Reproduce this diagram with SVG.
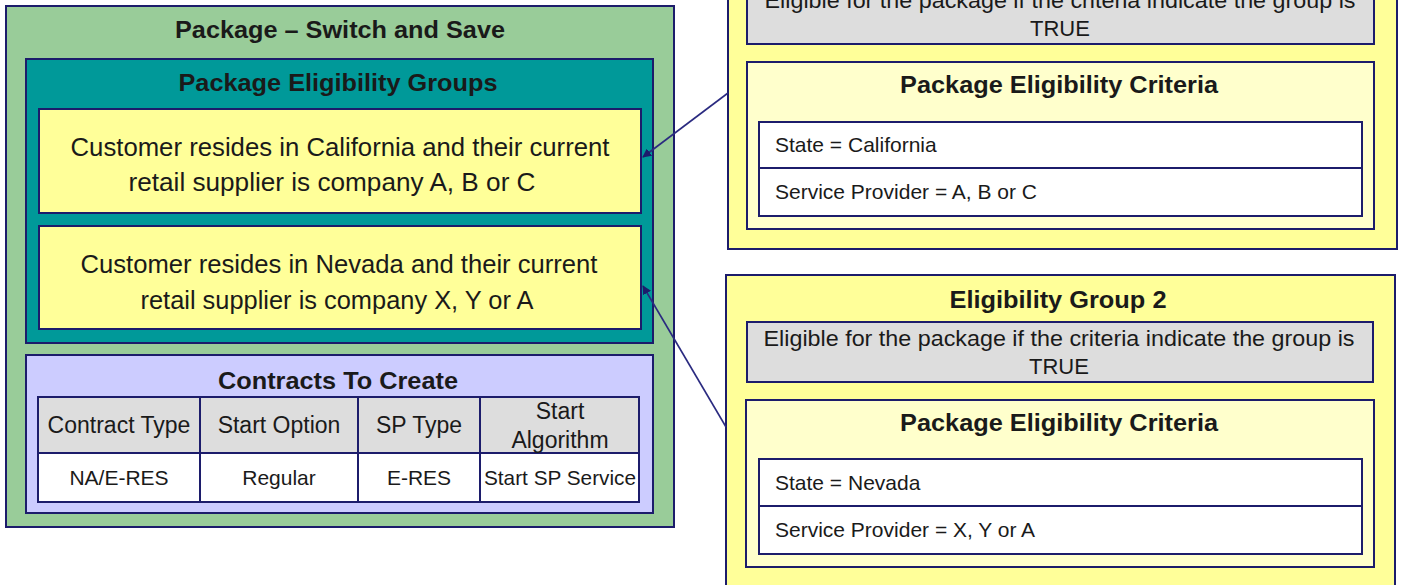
<svg xmlns="http://www.w3.org/2000/svg" width="1402" height="585" viewBox="0 0 1402 585">
<defs>
<style>
.bx{stroke:#1c1c6b;stroke-width:2}
.green{fill:#99cc99}
.teal{fill:#009999}
.yel{fill:#ffff99}
.crit{fill:#ffffcc}
.lav{fill:#ccccff}
.gray{fill:#dddddd}
.white{fill:#ffffff}
text{font-family:"Liberation Sans",Arial,sans-serif;fill:#1a1a1a}
.t{font-weight:bold;font-size:24px;text-anchor:middle}
.big{font-size:26px;text-anchor:middle}
.mid{font-size:22px;text-anchor:middle}
.head{font-size:23px;text-anchor:middle}
.cell{font-size:21px;text-anchor:middle}
.row{font-size:21px}
.conn{stroke:#2a2a80;stroke-width:1.6;fill:none}
</style>
<marker id="ah" viewBox="0 0 10 10" refX="9" refY="5" markerWidth="9" markerHeight="9" markerUnits="userSpaceOnUse" orient="auto">
<path d="M0,0 L10,5 L0,10 z" fill="#1c1c6b"/>
</marker>
</defs>

<g id="package">
<rect class="bx green" x="6" y="6" width="668" height="521"/>
<text class="t" x="340" y="38" textLength="330" lengthAdjust="spacingAndGlyphs">Package – Switch and Save</text>
</g>

<g id="eligibility-groups">
<rect class="bx teal" x="26" y="59" width="627" height="284"/>
<text class="t" x="338" y="91" textLength="319" lengthAdjust="spacingAndGlyphs">Package Eligibility Groups</text>
</g>

<g id="group-california">
<rect class="bx yel" x="39" y="109" width="602" height="104"/>
<text class="big" x="340" y="156" textLength="539" lengthAdjust="spacingAndGlyphs">Customer resides in California and their current</text>
<text class="big" x="332" y="191" textLength="407" lengthAdjust="spacingAndGlyphs">retail supplier is company A, B or C</text>
</g>

<g id="group-nevada">
<rect class="bx yel" x="39" y="226" width="602" height="103"/>
<text class="big" x="339" y="273" textLength="517" lengthAdjust="spacingAndGlyphs">Customer resides in Nevada and their current</text>
<text class="big" x="337" y="309" textLength="393" lengthAdjust="spacingAndGlyphs">retail supplier is company X, Y or A</text>
</g>

<g id="contracts">
<rect class="bx lav" x="26" y="355" width="627" height="158"/>
<text class="t" x="338" y="389" textLength="240" lengthAdjust="spacingAndGlyphs">Contracts To Create</text>
<rect class="bx gray" x="38" y="397" width="601" height="56"/>
<rect class="bx white" x="38" y="453" width="601" height="49"/>
<line class="bx" x1="200" y1="397" x2="200" y2="502"/>
<line class="bx" x1="358" y1="397" x2="358" y2="502"/>
<line class="bx" x1="480" y1="397" x2="480" y2="502"/>
<text class="head" x="119" y="433">Contract Type</text>
<text class="head" x="279" y="433">Start Option</text>
<text class="head" x="419" y="433">SP Type</text>
<text class="head" x="560" y="419">Start</text>
<text class="head" x="560" y="448">Algorithm</text>
<text class="cell" x="119" y="485">NA/E-RES</text>
<text class="cell" x="279" y="485">Regular</text>
<text class="cell" x="419" y="485">E-RES</text>
<text class="cell" x="560" y="485" textLength="152" lengthAdjust="spacingAndGlyphs">Start SP Service</text>
</g>

<g id="eligibility-group-1">
<rect class="bx yel" x="728" y="-63" width="669" height="312"/>
<rect class="bx gray" x="747" y="-16" width="627" height="60"/>
<text class="mid" x="1060" y="8" textLength="591" lengthAdjust="spacingAndGlyphs">Eligible for the package if the criteria indicate the group is</text>
<text class="mid" x="1060" y="36">TRUE</text>
<rect class="bx crit" x="747" y="62" width="627" height="167"/>
<text class="t" x="1059" y="93" textLength="318" lengthAdjust="spacingAndGlyphs">Package Eligibility Criteria</text>
<rect class="bx white" x="759" y="122" width="603" height="46"/>
<rect class="bx white" x="759" y="168" width="603" height="48"/>
<text class="row" x="775" y="152">State = California</text>
<text class="row" x="775" y="199">Service Provider = A, B or C</text>
</g>

<g id="eligibility-group-2">
<rect class="bx yel" x="726" y="275" width="669" height="330"/>
<text class="t" x="1058" y="308" textLength="217" lengthAdjust="spacingAndGlyphs">Eligibility Group 2</text>
<rect class="bx gray" x="747" y="322" width="626" height="60"/>
<text class="mid" x="1059" y="346" textLength="591" lengthAdjust="spacingAndGlyphs">Eligible for the package if the criteria indicate the group is</text>
<text class="mid" x="1059" y="374">TRUE</text>
<rect class="bx crit" x="746" y="400" width="628" height="167"/>
<text class="t" x="1059" y="431" textLength="318" lengthAdjust="spacingAndGlyphs">Package Eligibility Criteria</text>
<rect class="bx white" x="759" y="459" width="603" height="47"/>
<rect class="bx white" x="759" y="506" width="603" height="48"/>
<text class="row" x="775" y="490">State = Nevada</text>
<text class="row" x="775" y="537">Service Provider = X, Y or A</text>
</g>

<g id="connectors">
<line class="conn" x1="728" y1="93" x2="643" y2="157" marker-end="url(#ah)"/>
<line class="conn" x1="726" y1="427" x2="643" y2="286" marker-end="url(#ah)"/>
</g>
</svg>
